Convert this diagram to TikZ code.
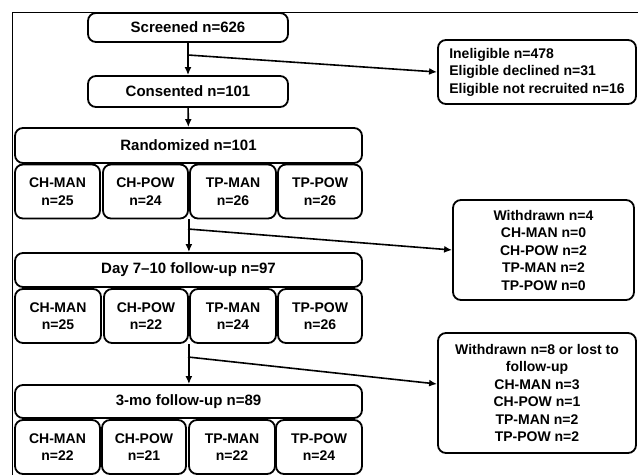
\documentclass[tikz,border=0pt]{standalone}
\usepackage{fontspec}
\setmainfont{Liberation Sans}
\usetikzlibrary{arrows.meta,positioning,calc}

\begin{document}
\begin{tikzpicture}[
  x=1pt, y=-1pt,
  font=\bfseries\fontsize{14}{17.5}\selectfont,
  rbox/.style={draw, line width=1.8pt, rounded corners=8pt, align=center, inner sep=0pt},
  hbox/.style={rbox, font=\bfseries\fontsize{15}{18}\selectfont},
  gbox/.style={rbox, minimum height=54pt},
  arr/.style={-{Latex[length=8pt,width=7pt]}, line width=1.6pt}
]
\useasboundingbox (0,0) rectangle (638,475);
\draw[line width=1.3pt] (12.5,475) -- (12.5,12.5) -- (638,12.5);
% main stages
\node[hbox, minimum width=200pt, minimum height=29pt] (scr) at (188,27.5) {Screened n=626};
\node[hbox, minimum width=200pt, minimum height=31pt] (con) at (188,91.5) {Consented n=101};
\node[hbox, minimum width=347pt, minimum height=35pt] (rnd) at (188.5,145.5) {Randomized n=101};
\node[gbox, minimum width=85pt] (r1a) at (57.5,191.5) {CH-MAN\\n=25};
\node[gbox, minimum width=85pt] (r1b) at (145.5,191.5) {CH-POW\\n=24};
\node[gbox, minimum width=86pt] (r1c) at (233,191.5) {TP-MAN\\n=26};
\node[gbox, minimum width=84pt] (r1d) at (320,191.5) {TP-POW\\n=26};
\node[hbox, minimum width=347pt, minimum height=34pt] (day) at (188.5,270) {Day 7--10 follow-up n=97};
\node[gbox, minimum width=86pt] (r2a) at (58,316) {CH-MAN\\n=25};
\node[gbox, minimum width=84pt] (r2b) at (146,316) {CH-POW\\n=22};
\node[gbox, minimum width=86pt] (r2c) at (233,316) {TP-MAN\\n=24};
\node[gbox, minimum width=84pt] (r2d) at (320,316) {TP-POW\\n=26};
\node[hbox, minimum width=347pt, minimum height=33pt] (mo3) at (188.5,401.5) {3-mo follow-up n=89};
\node[gbox, minimum width=85pt] (r3a) at (57.5,447) {CH-MAN\\n=22};
\node[gbox, minimum width=84pt] (r3b) at (144,447) {CH-POW\\n=21};
\node[gbox, minimum width=86pt] (r3c) at (232,447) {TP-MAN\\n=22};
\node[gbox, minimum width=86pt] (r3d) at (319,447) {TP-POW\\n=24};
% exclusions
\node[rbox, minimum width=198pt, minimum height=64pt, align=left] (inel) at (537,72)
  {Ineligible n=478\\Eligible declined n=31\\Eligible not recruited n=16};
\node[rbox, minimum width=181pt, minimum height=100pt] (wd1) at (543.5,250)
  {Withdrawn n=4\\CH-MAN n=0\\CH-POW n=2\\TP-MAN n=2\\TP-POW n=0};
\node[rbox, minimum width=198pt, minimum height=120pt] (wd2) at (537,393)
  {Withdrawn n=8 or lost to\\follow-up\\CH-MAN n=3\\CH-POW n=1\\TP-MAN n=2\\TP-POW n=2};
% connectors
\coordinate (b1) at (188,55);
\coordinate (b2) at (188,229);
\coordinate (b3) at (188,357);
\draw[arr] (scr) -- (con);
\draw[arr] (con) -- (rnd);
\draw[arr] (r1b.south east) -- (r1b.south east |- day.north);
\draw[arr] (r2b.south east) -- (r2b.south east |- mo3.north);
\draw[arr] (b1) -- (inel.west);
\draw[arr] (b2) -- (wd1.west);
\draw[arr] (b3) -- ([yshift=9pt]wd2.west);
\end{tikzpicture}
\end{document}
